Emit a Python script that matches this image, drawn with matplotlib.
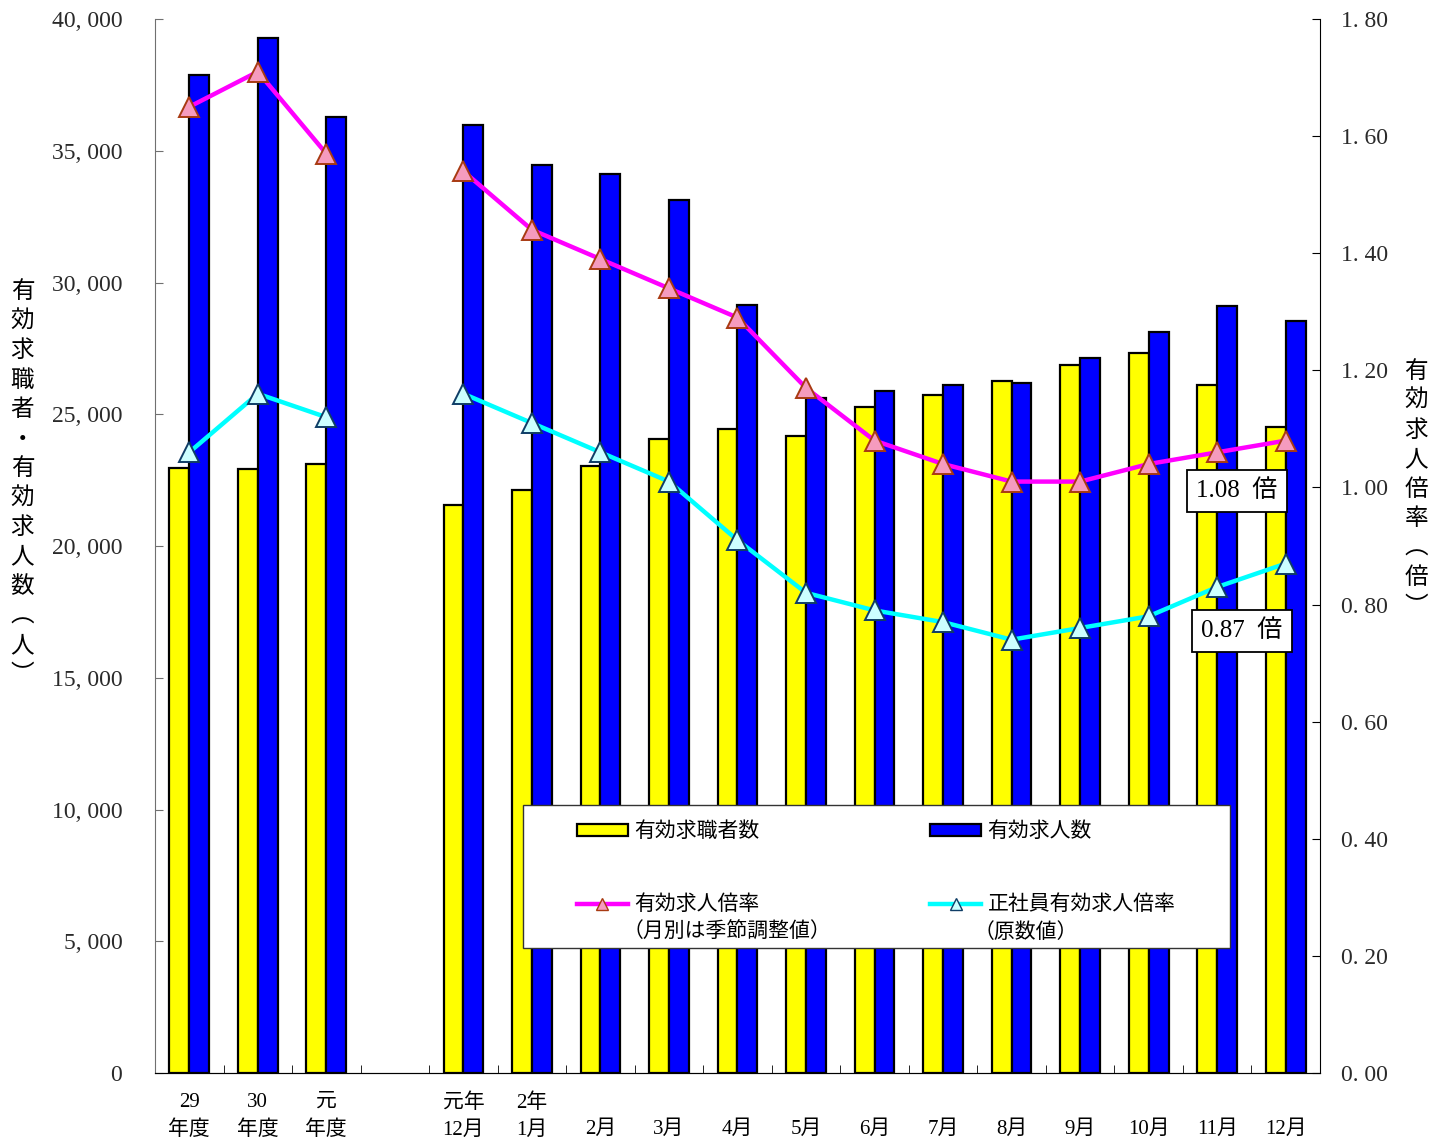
import numpy as np
import matplotlib
matplotlib.use("Agg")
import matplotlib.pyplot as plt
from matplotlib.patches import Patch, Rectangle
from matplotlib.lines import Line2D

plt.rcParams['font.family'] = ['Liberation Serif', 'Noto Sans CJK JP']

# ---------------- data ----------------
categories = ["29\n年度", "30\n年度", "元\n年度", "",
              "元年\n12月", "2年\n1月", "\n2月", "\n3月", "\n4月", "\n5月",
              "\n6月", "\n7月", "\n8月", "\n9月", "\n10月", "\n11月", "\n12月"]
job_seekers = [22960, 22920, 23110, None, 21560, 22130, 23040, 24060, 24440,
               24170, 25280, 25730, 26260, 26870, 27320, 26110, 24520]
job_offers = [37870, 39280, 36280, None, 35980, 34460, 34120, 33130, 29150,
              25620, 25880, 26110, 26190, 27130, 28120, 29110, 28540]
offer_ratio = [1.65, 1.71, 1.57, None, 1.54, 1.44, 1.39, 1.34, 1.29, 1.17,
               1.08, 1.04, 1.01, 1.01, 1.04, 1.06, 1.08]
regular_ratio = [1.06, 1.16, 1.12, None, 1.16, 1.11, 1.06, 1.01, 0.91, 0.82,
                 0.79, 0.77, 0.74, 0.76, 0.78, 0.83, 0.87]
left_ticks = [0, 5000, 10000, 15000, 20000, 25000, 30000, 35000, 40000]
right_ticks = [0.0, 0.2, 0.4, 0.6, 0.8, 1.0, 1.2, 1.4, 1.6, 1.8]
series_names = ["有効求職者数", "有効求人数", "有効求人倍率", "正社員有効求人倍率"]
series_notes = ["（月別は季節調整値）", "（原数値）"]
left_label = "有効求職者・有効求人数︵人︶"
right_label = "有効求人倍率︵倍︶"

# ---------------- figure ----------------
fig = plt.figure(figsize=(14.46, 11.40), dpi=100)
ax = fig.add_axes([0.10719, 0.05877, 0.80567, 0.92456])
ax2 = ax.twinx()

x = np.arange(len(categories))
w = 0.29
idx = [i for i, v in enumerate(job_seekers) if v is not None]
ax.bar(x[idx] - w / 2, [job_seekers[i] for i in idx], w, color="#FFFF00",
       edgecolor="black", linewidth=1.6, zorder=2)
ax.bar(x[idx] + w / 2, [job_offers[i] for i in idx], w, color="#0000FF",
       edgecolor="black", linewidth=1.6, zorder=2)

r1 = np.array([np.nan if v is None else v for v in offer_ratio])
r2 = np.array([np.nan if v is None else v for v in regular_ratio])
ax2.plot(x, r1, color="#FF00FF", lw=3.2, marker="^", markersize=15,
         markerfacecolor="#F59BBE", markeredgecolor="#A83A12",
         markeredgewidth=1.4, zorder=3)
ax2.plot(x, r2, color="#00FFFF", lw=3.2, marker="^", markersize=15,
         markerfacecolor="#CCFFFF", markeredgecolor="#0F3D66",
         markeredgewidth=1.4, zorder=3)

ax.set_xlim(-0.5, len(categories) - 0.5)
ax.set_ylim(0, 40000)
ax2.set_ylim(0, 1.8)

ax.set_yticks(left_ticks)
ax.set_yticklabels([f"{v:,}".replace(",", ", ") for v in left_ticks],
                   fontsize=17, color="#2a2a2a")
ax2.set_yticks(right_ticks)
ax2.set_yticklabels([f"{v:.2f}".replace(".", ". ") for v in right_ticks],
                    fontsize=17, color="#2a2a2a")
ax.tick_params(axis="y", direction="in", length=6, pad=23.5, color="#707070")
ax2.tick_params(axis="y", direction="in", length=6, pad=15)

ax.set_xticks(x)
ax.set_xticklabels(categories, fontsize=15, linespacing=1.55)
ax.tick_params(axis="x", length=0, pad=14.5)
ax.set_xticks(np.arange(0.5, len(categories) - 1, 1), minor=True)
ax.tick_params(axis="x", which="minor", direction="in", length=6)

for a in (ax, ax2):
    a.spines["top"].set_visible(False)
ax.spines["left"].set_color("#707070")
ax2.spines["left"].set_visible(False)
ax.spines["right"].set_visible(False)
ax2.spines["right"].set_color("black")
ax.spines["bottom"].set_color("#333333")

# axis titles (vertical text)
fig.text(0.0155, 0.576, "\n".join(left_label), fontsize=17, ha="center",
         va="center", linespacing=1.36, family="Noto Sans CJK JP")
fig.text(0.9795, 0.571, "\n".join(right_label), fontsize=17, ha="center",
         va="center", linespacing=1.36, family="Noto Sans CJK JP")

# legend
ax2.add_patch(Rectangle((0.3159, 0.1186), 0.6068, 0.1357,
                        transform=ax2.transAxes, facecolor="white",
                        edgecolor="#333333", linewidth=1.0, zorder=5))
handles = [
    Patch(facecolor="#FFFF00", edgecolor="black", linewidth=1.6),
    Line2D([], [], color="#FF00FF", lw=3.2, marker="^", markersize=8,
           markerfacecolor="#F59BBE", markeredgecolor="#A83A12"),
    Patch(facecolor="#0000FF", edgecolor="black", linewidth=1.6),
    Line2D([], [], color="#00FFFF", lw=3.2, marker="^", markersize=8,
           markerfacecolor="#CCFFFF", markeredgecolor="#0F3D66"),
]
labels = [series_names[0], series_names[2], series_names[1], series_names[3]]
leg = ax2.legend(handles, labels, ncol=2, loc="upper left",
                 bbox_to_anchor=(0.3622, 0.2397), bbox_transform=ax2.transAxes,
                 frameon=False, handlelength=2.45,
                 handleheight=0.5, handletextpad=0.3, columnspacing=8.2,
                 labelspacing=2.45, borderpad=0, borderaxespad=0,
                 prop={"family": "Noto Sans CJK JP", "size": 15})
leg.set_zorder(6)
ax2.text(0.4015, 0.1340, series_notes[0], transform=ax2.transAxes,
         fontsize=15, va="center", ha="left", zorder=7,
         family="Noto Sans CJK JP")
ax2.text(0.7030, 0.1340, series_notes[1], transform=ax2.transAxes,
         fontsize=15, va="center", ha="left", zorder=7,
         family="Noto Sans CJK JP")

# value boxes
box = dict(boxstyle="square,pad=0.38", facecolor="white", edgecolor="black",
           linewidth=1.3)
ax2.text(15.29, 0.994, f"{offer_ratio[-1]:.2f}  倍", fontsize=18, ha="center",
         va="center", bbox=box, zorder=8)
ax2.text(15.36, 0.755, f"{regular_ratio[-1]:.2f}  倍", fontsize=18,
         ha="center", va="center", bbox=box, zorder=8)

fig.savefig("out.png", dpi=100)
